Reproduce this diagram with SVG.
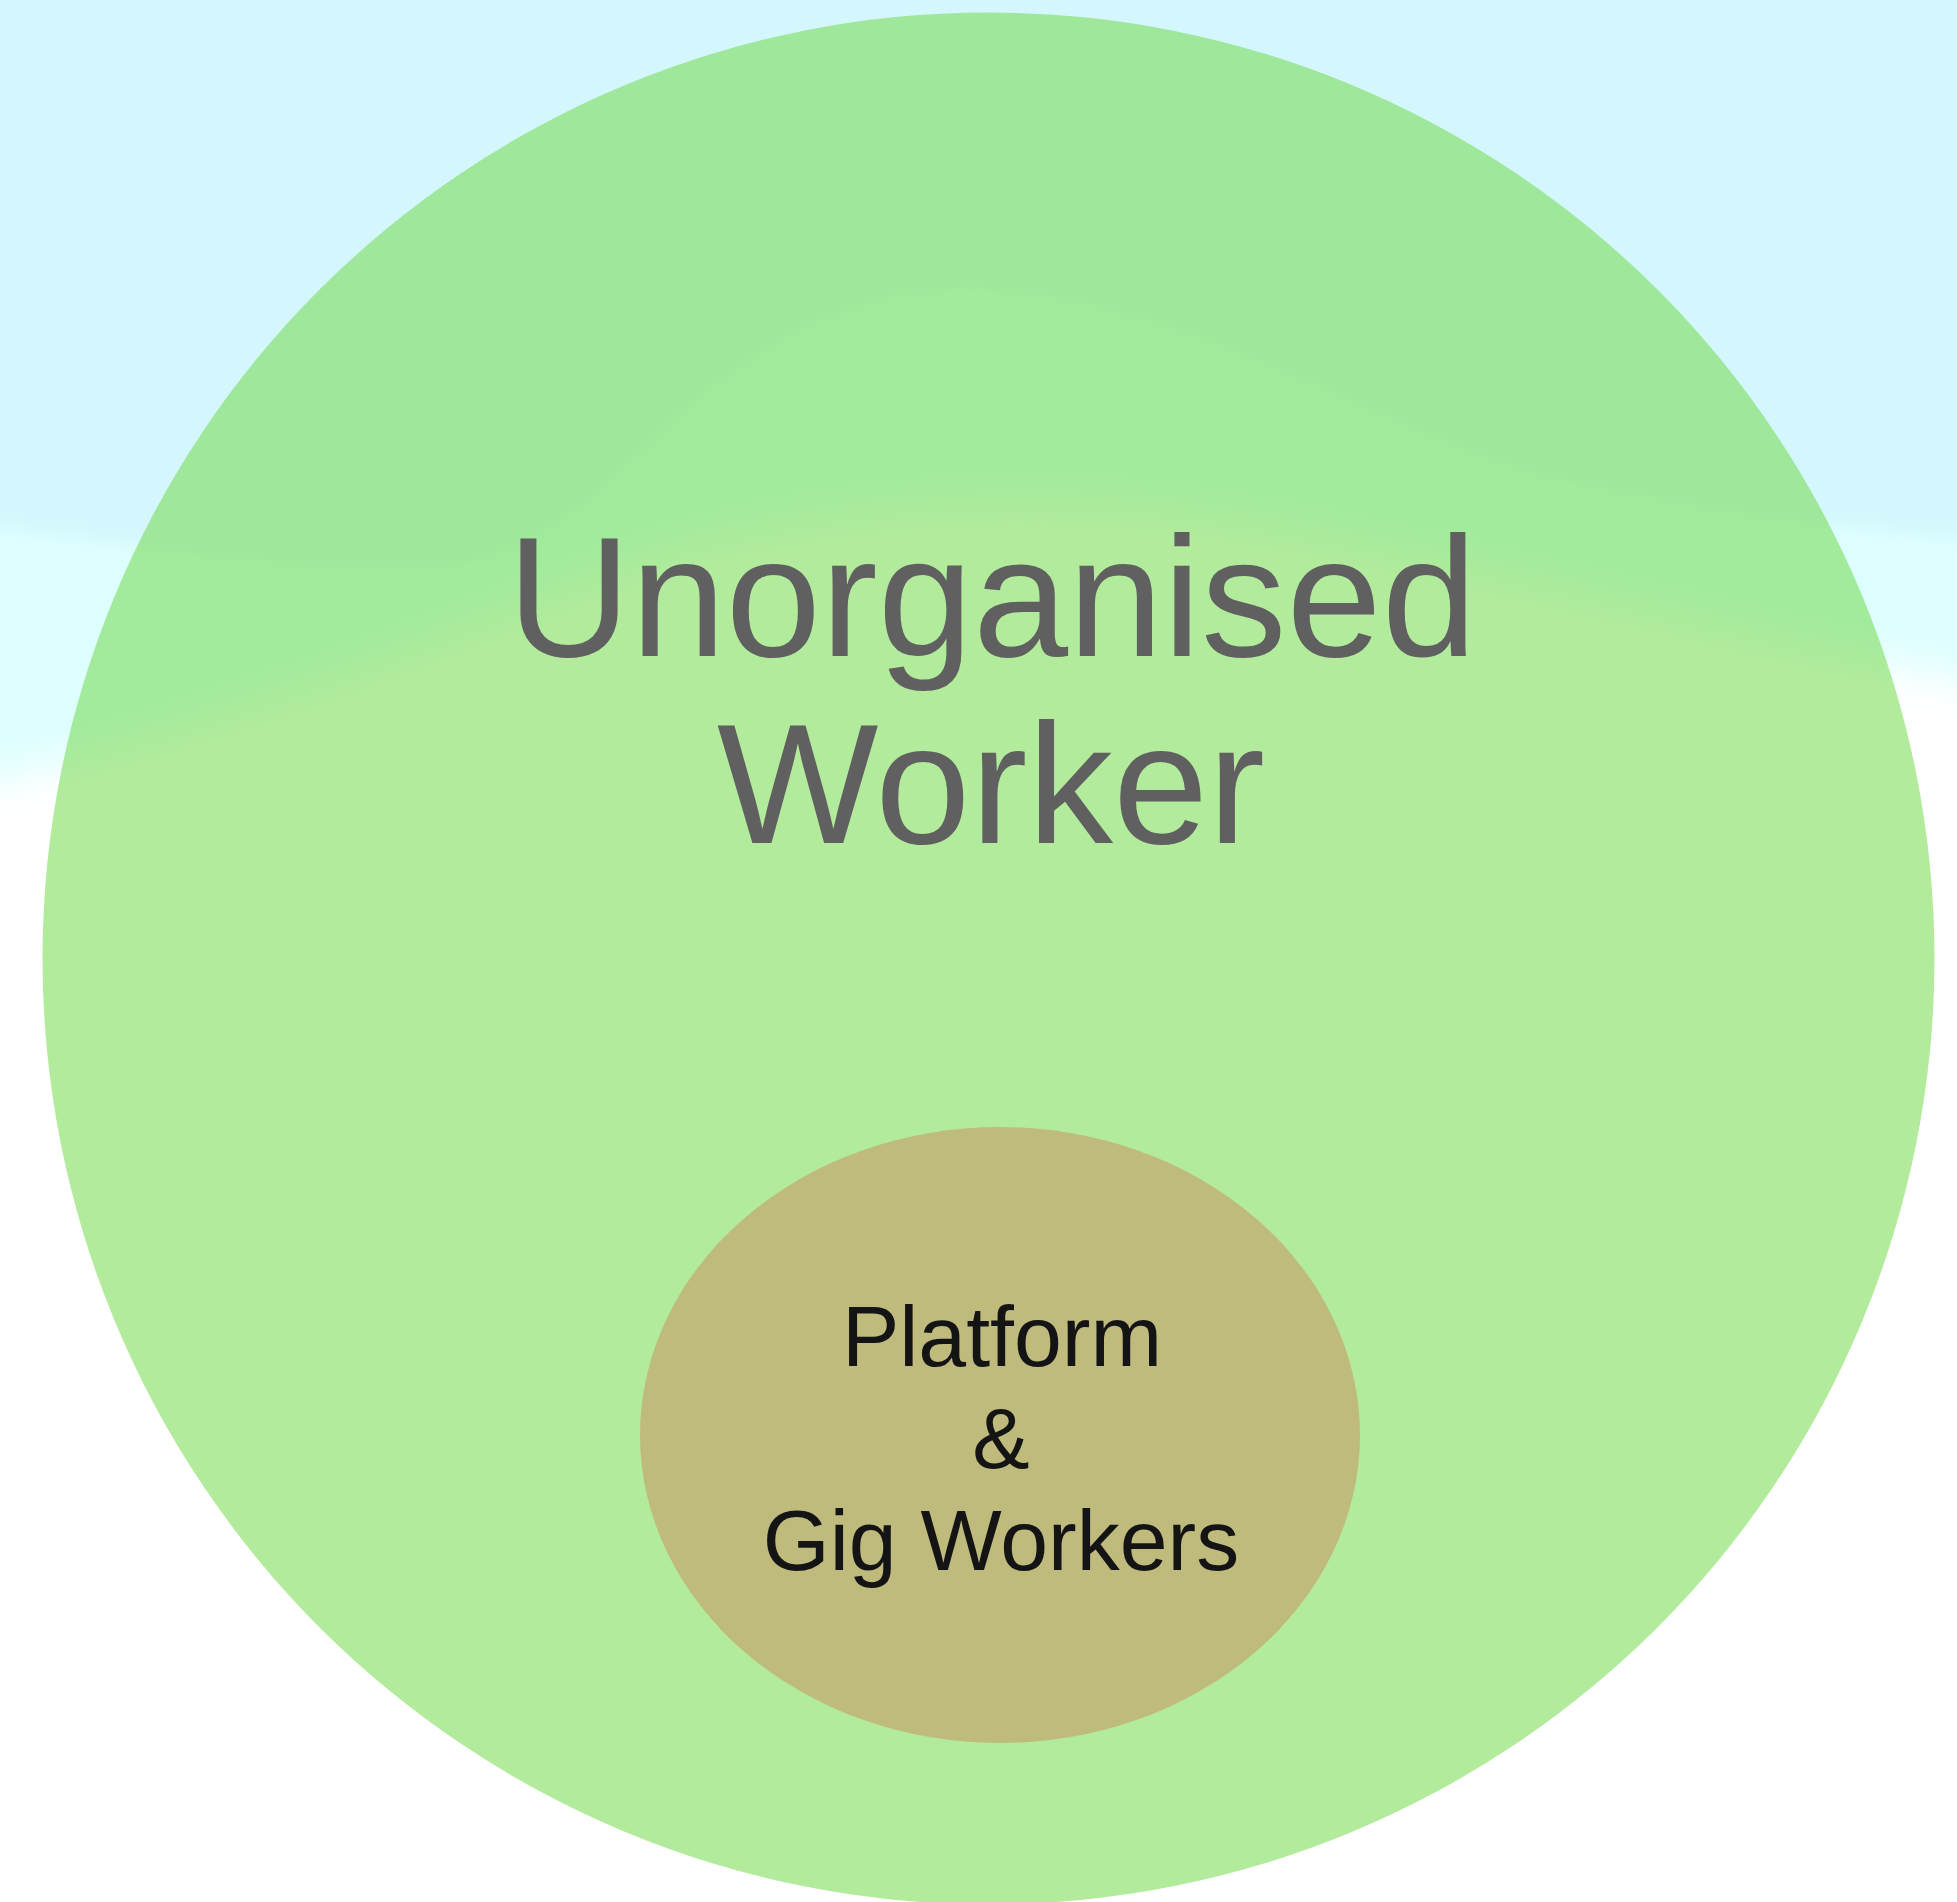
<svg xmlns="http://www.w3.org/2000/svg" width="1957" height="1902" viewBox="0 0 1957 1902">
  <defs>
    <filter id="soft" x="-5%" y="-5%" width="110%" height="120%">
      <feGaussianBlur stdDeviation="8"/>
    </filter>
    <filter id="softer" x="-5%" y="-5%" width="110%" height="120%">
      <feGaussianBlur stdDeviation="22"/>
    </filter>
  </defs>
  <style>
    .outer-label { font-family: "Liberation Sans", Arial, sans-serif; font-size: 171px; fill: #606060; text-anchor: middle; }
    .inner-label { font-family: "Liberation Sans", Arial, sans-serif; font-size: 86px; fill: #141414; text-anchor: middle; }
  </style>
  <g id="background">
    <rect x="0" y="0" width="1957" height="1902" fill="#ffffff"/>
    <path d="M-60,-60 H2020 V690 C1800,650 1600,595 1467,568 C1330,540 1200,505 1059,503 C900,500 800,520 702,543 C600,570 450,640 300,690 C200,720 100,760 -60,790 Z" fill="#ddfffe" filter="url(#softer)"/>
    <path d="M-60,-60 H2020 V543 C1850,530 1700,508 1550,475 C1400,440 1200,300 983,287 C870,282 780,330 700,395 C620,460 560,560 420,566 C300,570 150,545 -60,520 Z" fill="#d4f7fd" filter="url(#soft)"/>
  </g>
  <g id="connectors"/>
  <g id="unorganised-worker">
    <circle cx="988.5" cy="958.5" r="946" fill="#68d83a" fill-opacity="0.5"/>
    <text class="outer-label" x="992" y="656">Unorganised</text>
    <text class="outer-label" x="991" y="843">Worker</text>
  </g>
  <g id="platform-gig-workers">
    <ellipse cx="1000" cy="1435" rx="360" ry="308" fill="#bfbb7d"/>
    <text class="inner-label" x="1002" y="1366">Platform</text>
    <text class="inner-label" x="1001" y="1468">&amp;</text>
    <text class="inner-label" x="1001" y="1570">Gig Workers</text>
  </g>
</svg>
